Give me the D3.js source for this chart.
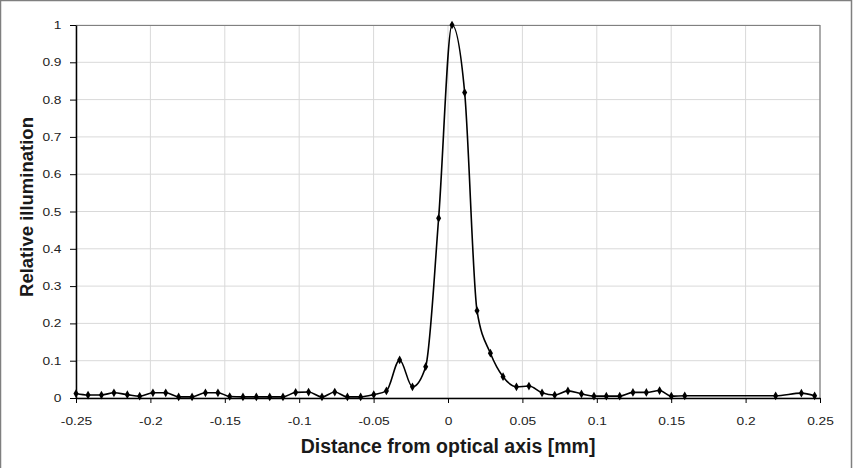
<!DOCTYPE html>
<html>
<head>
<meta charset="utf-8">
<script src="https://cdn.jsdelivr.net/npm/d3@7"></script>
<style>
  body { margin: 0; background: #fff; }
  svg { display: block; font-family: "Liberation Sans", Arial, sans-serif; }
</style>
</head>
<body>
<svg id="chart" width="857" height="468"></svg>
<script>
// Data
const distance = [
  -0.250, -0.2419, -0.2329, -0.2245, -0.2155, -0.2072, -0.1983, -0.1897, -0.1810, -0.1720,
  -0.1630, -0.1546, -0.1467, -0.1378, -0.1288, -0.1198, -0.1109, -0.1024, -0.0937, -0.0847,
  -0.0761, -0.0676, -0.0587, -0.0499, -0.0414, -0.0325, -0.0239, -0.0150, -0.0063, 0.0027,
  0.0112, 0.0195, 0.0285, 0.0370, 0.0460, 0.0544, 0.0632, 0.0717, 0.0806, 0.0897,
  0.0981, 0.1064, 0.1154, 0.1243, 0.1333, 0.1422, 0.1501, 0.1591, 0.2202, 0.2375, 0.2464
];
const illumination = [
  0.012, 0.008, 0.008, 0.014, 0.009, 0.005, 0.014, 0.014, 0.003, 0.003,
  0.014, 0.014, 0.004, 0.003, 0.003, 0.003, 0.003, 0.015, 0.016, 0.003,
  0.016, 0.003, 0.003, 0.009, 0.019, 0.102, 0.030, 0.084, 0.482, 1.000,
  0.819, 0.234, 0.120, 0.057, 0.030, 0.032, 0.014, 0.008, 0.019, 0.011,
  0.005, 0.005, 0.005, 0.015, 0.015, 0.020, 0.005, 0.006, 0.006, 0.013, 0.006
];
const xTicks = [-0.25, -0.2, -0.15, -0.1, -0.05, 0, 0.05, 0.1, 0.15, 0.2, 0.25];
const yTicks = [0, 0.1, 0.2, 0.3, 0.4, 0.5, 0.6, 0.7, 0.8, 0.9, 1];

const points = distance.map((d, i) => ({ x: d, y: illumination[i] }));

const svg = d3.select("#chart");
const margin = { top: 25, right: 37, bottom: 70, left: 76 };
const width = 857 - margin.left - margin.right;
const height = 468 - margin.top - margin.bottom;

// outer chart frame
svg.append("rect")
  .attr("x", 0.5).attr("y", 0.5)
  .attr("width", 851).attr("height", 470)
  .attr("fill", "none")
  .attr("stroke", "#7f7f7f")
  .attr("stroke-width", 1.5);

const g = svg.append("g").attr("transform", `translate(${margin.left},${margin.top})`);

const x = d3.scaleLinear().domain([-0.25, 0.25]).range([0, width]);
const y = d3.scaleLinear().domain([0, 1]).range([height, 0]);

// gridlines
g.append("g")
  .selectAll("line")
  .data(yTicks)
  .join("line")
  .attr("x1", 0).attr("x2", width)
  .attr("y1", d => y(d)).attr("y2", d => y(d))
  .attr("stroke", "#d9d9d9");

g.append("g")
  .selectAll("line")
  .data(xTicks)
  .join("line")
  .attr("x1", d => x(d)).attr("x2", d => x(d))
  .attr("y1", 0).attr("y2", height)
  .attr("stroke", "#d9d9d9");

// plot area border (top / right)
g.append("path")
  .attr("d", `M0,0.5H${width}V${height}`)
  .attr("fill", "none")
  .attr("stroke", "#808080")
  .attr("stroke-width", 1.2);

// plain hyphen minus like the original
const fmt = d => String(+d.toFixed(2));

const xAxis = g.append("g")
  .attr("transform", `translate(0,${height})`)
  .call(d3.axisBottom(x).tickValues(xTicks).tickSize(5).tickSizeOuter(0).tickPadding(14).tickFormat(fmt));
const yAxis = g.append("g")
  .call(d3.axisLeft(y).tickValues(yTicks).tickSize(6).tickSizeOuter(0).tickPadding(5).tickFormat(fmt));

[xAxis, yAxis].forEach(a => {
  a.select(".domain").attr("stroke", "#000").attr("stroke-width", 1.5);
  a.selectAll(".tick line").attr("stroke", "#000");
  a.selectAll(".tick text")
    .attr("font-size", 11)
    .attr("fill", "#222")
    .attr("font-family", "Liberation Sans, Arial, sans-serif");
});
// the tick labels are a bit wider than plain Arial
xAxis.selectAll(".tick text").attr("transform", "scale(1.25,1)");
yAxis.selectAll(".tick text").attr("x", -10).attr("transform", "translate(-2,0) scale(1.25,1)");

// smoothed line
const line = d3.line()
  .x(d => x(d.x))
  .y(d => y(d.y))
  .curve(d3.curveMonotoneX);

g.append("path")
  .datum(points)
  .attr("d", line)
  .attr("fill", "none")
  .attr("stroke", "#000")
  .attr("stroke-width", 1.6);

// diamond markers
g.append("g")
  .selectAll("path")
  .data(points)
  .join("path")
  .attr("transform", d => `translate(${x(d.x)},${y(d.y)})`)
  .attr("d", d3.symbol(d3.symbolDiamond, 22))
  .attr("fill", "#000");

// axis titles
svg.append("text")
  .attr("x", margin.left + x(0))
  .attr("y", 453)
  .attr("text-anchor", "middle")
  .attr("font-size", 19.5)
  .attr("font-weight", "bold")
  .attr("fill", "#1a1a1a")
  .text("Distance from optical axis [mm]");

svg.append("text")
  .attr("transform", "translate(33,207) rotate(-90)")
  .attr("text-anchor", "middle")
  .attr("font-size", 18.5)
  .attr("font-weight", "bold")
  .attr("fill", "#1a1a1a")
  .text("Relative illumination");
</script>
</body>
</html>
